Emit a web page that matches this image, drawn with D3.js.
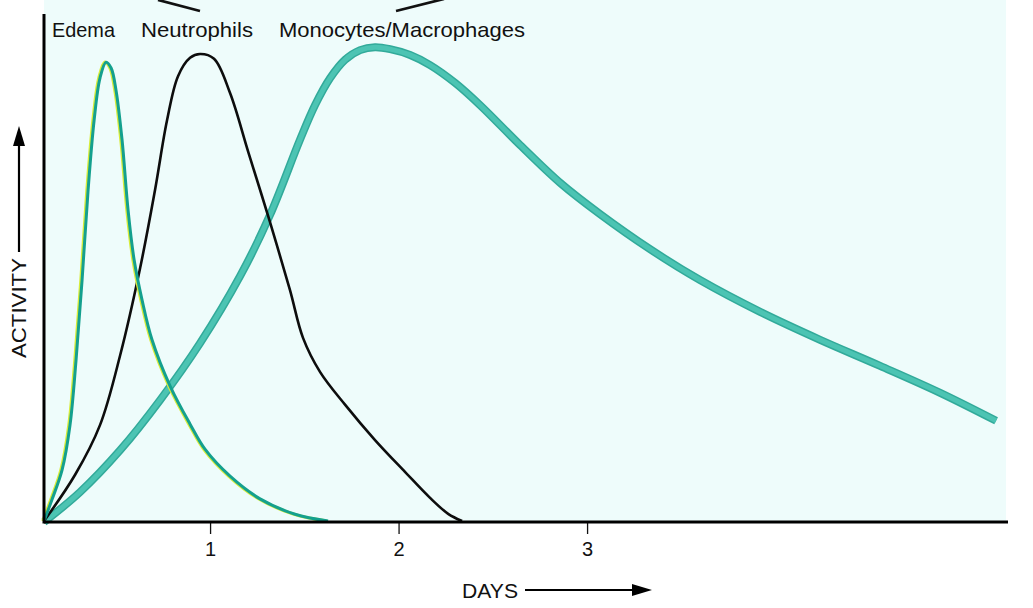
<!DOCTYPE html>
<html><head><meta charset="utf-8">
<script src="https://cdn.jsdelivr.net/npm/d3@7"></script>
<style>
html,body{margin:0;padding:0;background:#fff;}
svg{display:block;}
text{font-family:"Liberation Sans",Arial,Helvetica,sans-serif;fill:#111;}
</style></head>
<body>
<svg id="chart" width="1033" height="608"></svg>
<script>
// ---- data (days, relative activity 0-100) ----
const edemaDays = [0.119,0.161,0.215,0.257,0.289,0.321,0.353,0.385,0.416,0.448,0.475,0.501,0.533,0.565,0.597,0.639,0.692,0.788,0.894,0.973,1.106,1.265,1.451,1.626];
const edemaVals = [0.2,4.6,10.8,20.1,33.6,50.2,68.9,83.4,92.1,95.4,94.2,89.6,79.3,64.7,54.4,46.1,37.8,28.2,20.3,15.1,9.5,4.8,1.6,0.2];

const neutroDays = [0.119,0.284,0.416,0.523,0.629,0.708,0.772,0.830,0.894,0.947,1.021,1.106,1.204,1.318,1.424,1.493,1.584,1.717,1.875,2.034,2.167,2.263,2.337];
const neutroVals = [0.2,9.8,20.1,34.6,52.7,68.9,83.4,92.5,96.3,97.1,96.1,89.0,76.6,62.2,48.1,38.2,31.1,24.3,17.0,10.4,5.0,1.7,0.2];

const monoDays = [0.119,0.310,0.523,0.735,0.947,1.159,1.318,1.477,1.557,1.637,1.716,1.796,1.875,1.955,2.061,2.167,2.300,2.432,2.645,2.859,3.068,3.334,3.599,3.918,4.236,4.554,4.873,5.170];
const monoVals = [0.0,6.2,14.9,25.3,37.1,51.0,63.7,79.3,86.5,92.1,95.9,97.9,98.5,98.1,96.9,94.8,91.1,86.5,78.2,70.3,63.9,56.6,50.2,43.6,37.8,32.4,26.8,21.0];

const xTicks = [1,2,3];
const labels = ["Edema","Neutrophils","Monocytes/Macrophages"];
const xTitle = "DAYS";
const yTitle = "ACTIVITY";

// ---- layout ----
const svg = d3.select("#chart");
const mLeft = 44, mRight = 1008, mBottom = 522, mTop = 40;
const x = d3.scaleLinear().domain([0.119, 5.233]).range([mLeft, mRight]);
const y = d3.scaleLinear().domain([0, 100]).range([mBottom, mTop]);

// background panel
svg.append("rect").attr("x", mLeft).attr("y", 0).attr("width", 962).attr("height", mBottom)
  .attr("fill", "#eefcfb");

// cropped bracket strokes at top
svg.append("line").attr("x1",158).attr("y1",0).attr("x2",200).attr("y2",11).attr("stroke","#111").attr("stroke-width",2.8);
svg.append("line").attr("x1",396).attr("y1",11).attr("x2",444).attr("y2",-1).attr("stroke","#111").attr("stroke-width",2.8);

const line = d3.line().x(d => x(d[0])).y(d => y(d[1])).curve(d3.curveCatmullRom.alpha(0.5));

// monocytes (thick teal)
const mono = d3.zip(monoDays, monoVals);
svg.append("path").attr("d", line(mono)).attr("fill","none")
  .attr("stroke","#32aa9a").attr("stroke-width",8).attr("stroke-linecap","butt");
svg.append("path").attr("d", line(mono)).attr("fill","none")
  .attr("stroke","#4cc4b3").attr("stroke-width",5).attr("stroke-linecap","butt");

// neutrophils (black)
svg.append("path").attr("d", line(d3.zip(neutroDays, neutroVals))).attr("fill","none")
  .attr("stroke","#0d0d0d").attr("stroke-width",2.6);

// edema (teal-green with yellow fringe)
const ed = d3.zip(edemaDays, edemaVals);
svg.append("path").attr("d", line(ed)).attr("fill","none")
  .attr("stroke","#d8ec3a").attr("stroke-width",3.2).attr("transform","translate(-1.2,0)");
svg.append("path").attr("d", line(ed)).attr("fill","none")
  .attr("stroke","#14a08e").attr("stroke-width",3);

// axes
const xAxis = d3.axisBottom(x).tickValues(xTicks).tickSize(12).tickPadding(8).tickFormat(d3.format("d"));
const gx = svg.append("g").attr("transform", `translate(0,${mBottom})`).call(xAxis);
gx.select(".domain").remove();
gx.selectAll(".tick line").attr("stroke","#111").attr("stroke-width",1.3);
gx.selectAll(".tick text").attr("font-size",20).attr("fill","#111")
  .attr("font-family","'Liberation Sans',Arial,sans-serif");

svg.append("line").attr("x1", mLeft).attr("x2", mRight).attr("y1", mBottom).attr("y2", mBottom)
  .attr("stroke","#000").attr("stroke-width",3);
svg.append("line").attr("x1", mLeft).attr("x2", mLeft).attr("y1", 14).attr("y2", mBottom+1.5)
  .attr("stroke","#000").attr("stroke-width",3);

// top labels
const lx = [52, 141, 279];
const lw = [63, 112, 246];
labels.forEach((t,i) => {
  svg.append("text").attr("x", lx[i]).attr("y", 37).attr("font-size", 21)
    .attr("textLength", lw[i]).attr("lengthAdjust","spacingAndGlyphs").text(t);
});

// x title with arrow
svg.append("text").attr("x", 462).attr("y", 598).attr("font-size", 20)
  .attr("textLength", 56).attr("lengthAdjust","spacingAndGlyphs").text(xTitle);
svg.append("line").attr("x1",525).attr("x2",636).attr("y1",590).attr("y2",590).attr("stroke","#000").attr("stroke-width",2.2);
svg.append("path").attr("d","M652,590 L632,584 L632,596 Z").attr("fill","#000");

// y title with arrow
svg.append("text").attr("transform","translate(26,358) rotate(-90)").attr("font-size",20)
  .attr("textLength", 100).attr("lengthAdjust","spacingAndGlyphs").text(yTitle);
svg.append("line").attr("x1",19).attr("x2",19).attr("y1",252).attr("y2",142).attr("stroke","#000").attr("stroke-width",2.2);
svg.append("path").attr("d","M19,126 L13,146 L25,146 Z").attr("fill","#000");
</script>
</body></html>
